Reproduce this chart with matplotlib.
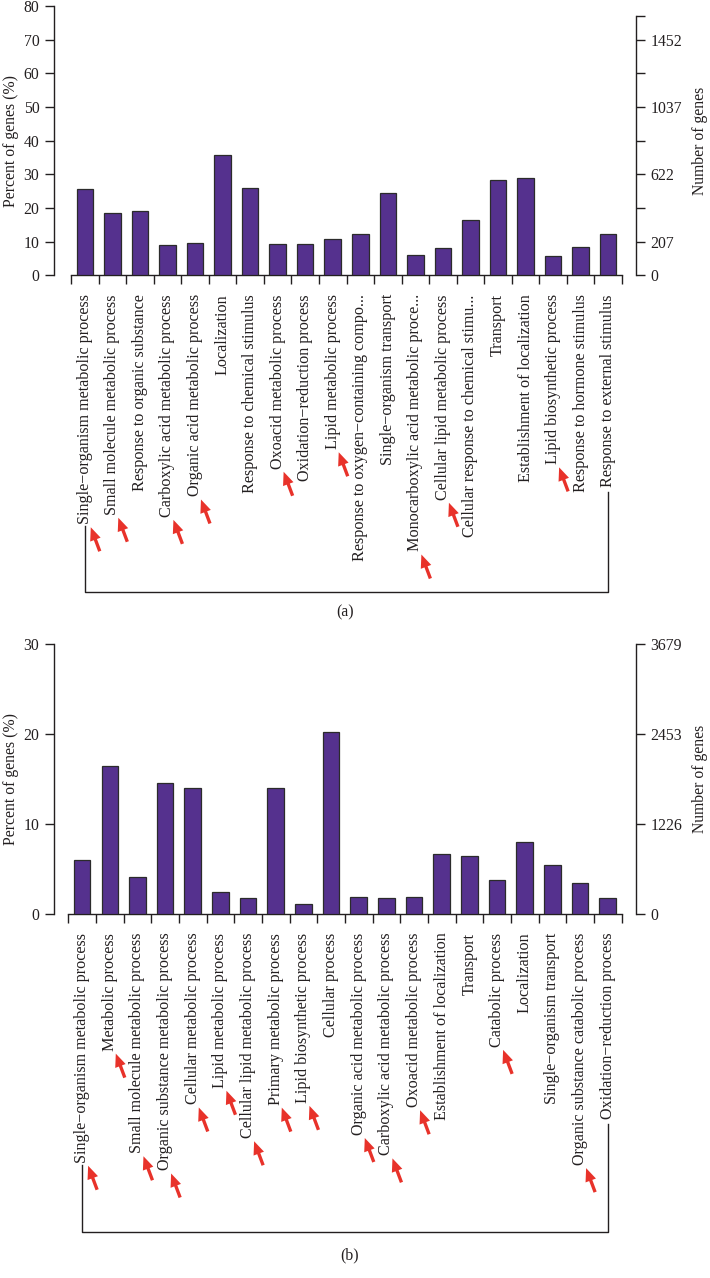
import matplotlib
matplotlib.use('Agg')
import matplotlib.pyplot as plt
from matplotlib.patches import FancyArrowPatch
from matplotlib.lines import Line2D
from matplotlib.transforms import IdentityTransform

plt.rcParams['font.family'] = ['Liberation Serif', 'DejaVu Serif']
plt.rcParams['font.size'] = 11

TXT = '#231f20'
BAR = '#55318e'
RED = '#e8322a'

cats_a = ["Single\u2212organism metabolic process", "Small molecule metabolic process",
          "Response to organic substance", "Carboxylic acid metabolic process",
          "Organic acid metabolic process", "Localization", "Response to chemical stimulus",
          "Oxoacid metabolic process", "Oxidation\u2212reduction process", "Lipid metabolic process",
          "Response to oxygen\u2212containing compo...", "Single\u2212organism transport",
          "Monocarboxylic acid metabolic proce...", "Cellular lipid metabolic process",
          "Cellular response to chemical stimu...", "Transport", "Establishment of localization",
          "Lipid biosynthetic process", "Response to hormone stimulus", "Response to external stimulus"]
pct_a = [25.8, 18.7, 19.1, 9.0, 9.6, 35.7, 26.0, 9.4, 9.4, 10.9,
         12.4, 24.4, 6.1, 8.3, 16.6, 28.3, 28.9, 5.9, 8.4, 12.3]
arrow_idx_a = [0, 1, 3, 4, 7, 9, 12, 13, 17]
left_ticks_a = [0, 10, 20, 30, 40, 50, 60, 70, 80]
right_ticks_a = [0, 207, 414.8, 622, 829.6, 1037, 1244.4, 1452, 1600]
right_labels_a = ['0', '207', '', '622', '', '1037', '', '1452', '']
genes_per_pct_a = 20.74

cats_b = ["Single\u2212organism metabolic process", "Metabolic process",
          "Small molecule metabolic process", "Organic substance metabolic process",
          "Cellular metabolic process", "Lipid metabolic process",
          "Cellular lipid metabolic process", "Primary metabolic process",
          "Lipid biosynthetic process", "Cellular process", "Organic acid metabolic process",
          "Carboxylic acid metabolic process", "Oxoacid metabolic process",
          "Establishment of localization", "Transport", "Catabolic process", "Localization",
          "Single\u2212organism transport", "Organic substance catabolic process",
          "Oxidation\u2212reduction process"]
pct_b = [6.0, 16.4, 4.15, 14.6, 14.0, 2.4, 1.8, 14.0, 1.15, 20.2,
         1.9, 1.75, 1.85, 6.7, 6.5, 3.8, 8.0, 5.4, 3.5, 1.8]
arrow_idx_b = [0, 1, 2, 3, 4, 5, 6, 7, 8, 10, 11, 12, 15, 18]
left_ticks_b = [0, 10, 20, 30]
right_ticks_b = [0, 1226, 2453, 3679]
right_labels_b = ['0', '1226', '2453', '3679']
genes_per_pct_b = 122.63

W, H = 710, 1278
fig = plt.figure(figsize=(W / 100, H / 100), dpi=100)


def panel(rect, xlim, cats, pct, ymax, lticks, rticks, rlabels, rtop, gpp):
    ax = fig.add_axes(rect)
    n = len(cats)
    x = list(range(n))
    ax.bar(x, pct, width=0.6, color=BAR, edgecolor='#2b2b2b', linewidth=0.9, zorder=3)
    ax.set_xlim(*xlim)
    ax.set_ylim(0, ymax)
    for s in ['top', 'right']:
        ax.spines[s].set_visible(False)
    ax.spines['left'].set_bounds(0, ymax)
    ax.spines['bottom'].set_bounds(-0.5, n - 0.5)
    for s in ['left', 'bottom']:
        ax.spines[s].set_color(TXT)
        ax.spines[s].set_linewidth(1.0)
    ax.set_xticks([i - 0.5 for i in range(n + 1)])
    ax.set_xticklabels([])
    ax.set_yticks(lticks)
    ax.tick_params(axis='both', direction='out', length=6.5, width=1.0, color=TXT,
                   labelcolor=TXT, labelsize=11.3, pad=4)
    ax.set_ylabel('Percent of genes (%)', fontsize=11.3, color=TXT, labelpad=3)
    texts = []
    for i, c in enumerate(cats):
        t = ax.annotate(c, xy=(i, 0), xycoords=('data', 'axes fraction'),
                        xytext=(0, -13.5), textcoords='offset points',
                        rotation=90, ha='center', va='top', fontsize=11.6, color=TXT)
        texts.append(t)
    ax2 = ax.twinx()
    ax2.set_ylim(0, ymax * gpp)
    for s in ['top', 'left', 'bottom']:
        ax2.spines[s].set_visible(False)
    ax2.spines['right'].set_bounds(0, rtop)
    ax2.spines['right'].set_color(TXT)
    ax2.spines['right'].set_linewidth(1.0)
    ax2.set_yticks(rticks)
    ax2.set_yticklabels(rlabels)
    ax2.tick_params(axis='y', direction='out', length=6.5, width=1.0, color=TXT,
                    labelcolor=TXT, labelsize=11.3, pad=4)
    ax2.set_ylabel('Number of genes', fontsize=11.3, color=TXT, labelpad=7)
    return ax, texts


ax_a, texts_a = panel([54 / W, 1 - 275.5 / H, (636 - 54) / W, (275.5 - 6) / H],
                      (-1.117, 20.008), cats_a, pct_a, 80, left_ticks_a,
                      right_ticks_a, right_labels_a, 1600, genes_per_pct_a)
ax_b, texts_b = panel([54 / W, 1 - 914 / H, (636 - 54) / W, (914 - 644) / H],
                      (-1.017, 20.02), cats_b, pct_b, 30, left_ticks_b,
                      right_ticks_b, right_labels_b, 3679, genes_per_pct_b)

fig.text(345 / W, 1 - 612 / H, '(a)', ha='center', va='center', fontsize=11.3, color=TXT)
fig.text(350 / W, 1 - 1255 / H, '(b)', ha='center', va='center', fontsize=11.3, color=TXT)

fig.canvas.draw()
renderer = fig.canvas.get_renderer()


def decorate(texts, idx, bracket_y_px):
    for i in idx:
        bb = texts[i].get_window_extent(renderer)
        cx = (bb.x0 + bb.x1) / 2
        tip = (cx + 6, bb.y0 - 3)
        tail = (cx + 15, bb.y0 - 27)
        p = FancyArrowPatch(tail, tip,
                            arrowstyle='simple,head_length=0.95,head_width=0.8,tail_width=0.24',
                            mutation_scale=10, color=RED, shrinkA=0, shrinkB=0,
                            transform=IdentityTransform(), lw=0)
        fig.add_artist(p)
    b0 = texts[0].get_window_extent(renderer)
    b1 = texts[-1].get_window_extent(renderer)
    x0 = (b0.x0 + b0.x1) / 2
    x1 = (b1.x0 + b1.x1) / 2
    yb = H - bracket_y_px
    ln = Line2D([x0, x0, x1, x1], [b0.y0 - 2, yb, yb, b1.y0 - 5], color=TXT, lw=1.0,
                transform=IdentityTransform())
    fig.add_artist(ln)


decorate(texts_a, arrow_idx_a, 592)
decorate(texts_b, arrow_idx_b, 1231.7)

fig.savefig('out.png', dpi=100)
